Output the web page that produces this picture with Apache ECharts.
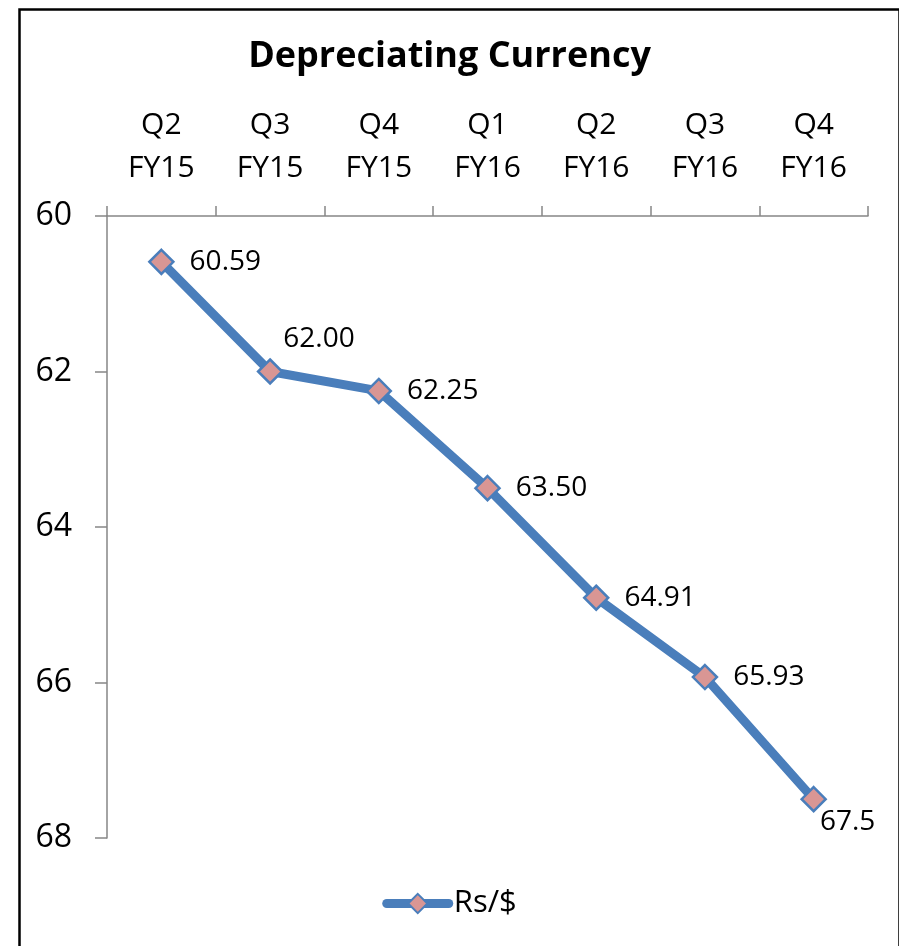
<!DOCTYPE html>
<html>
<head>
<meta charset="utf-8">
<script src="https://cdn.jsdelivr.net/npm/echarts@6/dist/echarts.min.js"></script>
<style>
html,body{margin:0;padding:0;background:#fff;}
#chart{width:899px;height:946px;}
</style>
</head>
<body>
<div id="chart"></div>
<script>
// 季度标签
var quarters = ['Q2\nFY15', 'Q3\nFY15', 'Q4\nFY15', 'Q1\nFY16', 'Q2\nFY16', 'Q3\nFY16', 'Q4\nFY16'];
// Rs/$ 汇率
var rates = [60.59, 62.00, 62.25, 63.50, 64.91, 65.93, 67.5];
var rateText = ['60.59', '62.00', '62.25', '63.50', '64.91', '65.93', '67.5'];
var yTicks = [60, 62, 64, 66, 68];

var font = 'Open Sans';
var lineColor = '#4A7EBB';

// 个别标签位置偏移
var labelOffsets = {1: [-15, -32], 6: [-22, 23]};

var chart = echarts.init(document.getElementById('chart'));

var pts = rates.map(function (v, i) {
	var item = {value: v};
	if (labelOffsets[i]) {
		item.label = {offset: labelOffsets[i]};
	}
	return item;
});

chart.setOption({
	backgroundColor: '#fff',
	animation: false,
	title: {
		text: 'Depreciating Currency',
		left: 'center',
		top: 34,
		textStyle: {fontFamily: font, fontWeight: 'bold', fontSize: 36, color: '#000'}
	},
	legend: {
		bottom: 22,
		left: 'center',
		itemWidth: 62,
		itemHeight: 24,
		itemGap: 4,
		data: ['Rs/$'],
		lineStyle: {width: 9, cap: 'round'},
		textStyle: {fontFamily: font, fontSize: 31, color: '#000', padding: [0, 0, 0, 0]}
	},
	grid: {left: 107, right: 31, top: 216, bottom: 108},
	xAxis: {
		type: 'category',
		position: 'top',
		data: quarters,
		boundaryGap: true,
		axisLine: {lineStyle: {color: '#868686', width: 1.5}},
		axisTick: {show: true, length: 10, interval: 0, lineStyle: {color: '#868686', width: 1.5}},
		axisLabel: {fontFamily: font, fontSize: 30, color: '#000', lineHeight: 43, margin: 26, interval: 0}
	},
	yAxis: {
		type: 'value',
		inverse: true,
		min: yTicks[0],
		max: yTicks[yTicks.length - 1],
		interval: 2,
		axisLine: {show: true, lineStyle: {color: '#868686', width: 1.5}},
		axisTick: {show: true, length: 12, lineStyle: {color: '#868686', width: 1.5}},
		splitLine: {show: false},
		axisLabel: {fontFamily: font, fontSize: 32, color: '#000', margin: 35}
	},
	series: [{
		name: 'Rs/$',
		type: 'line',
		data: pts,
		symbol: 'diamond',
		symbolSize: 24,
		lineStyle: {color: lineColor, width: 9},
		itemStyle: {color: '#D99694', borderColor: lineColor, borderWidth: 2.5},
		label: {
			show: true,
			position: 'right',
			distance: 15,
			fontFamily: font,
			fontSize: 28,
			color: '#000',
			formatter: function (p) { return rateText[p.dataIndex]; }
		}
	}],
	graphic: [{
		type: 'rect',
		left: 17, top: 7,
		shape: {width: 880, height: 970},
		style: {fill: 'none', stroke: '#000', lineWidth: 2.5},
		silent: true
	}]
});
</script>
</body>
</html>
